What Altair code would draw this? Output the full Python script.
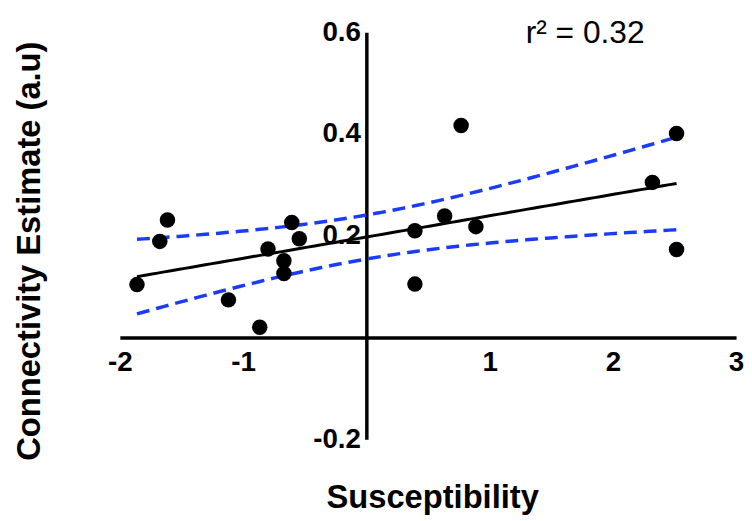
import altair as alt
import numpy as np
import pandas as pd

# Scatter data
susceptibility = [-1.614, -1.676, -1.861, -1.119, -0.865, -0.798, -0.605, -0.544, -0.669, -0.669,
                  0.769, 2.517, 2.321, 0.635, 0.394, 0.889, 2.517, 0.394]
connectivity = [0.231, 0.189, 0.104, 0.074, 0.020, 0.174, 0.226, 0.194, 0.151, 0.126,
                0.417, 0.401, 0.305, 0.239, 0.210, 0.218, 0.173, 0.105]
x_ticks = [-2, -1, 0, 1, 2, 3]
y_ticks = [-0.2, 0, 0.2, 0.4, 0.6]
r2_label = "r\u00b2 = 0.32"

pts = pd.DataFrame({"x": susceptibility, "y": connectivity})

# Linear regression with 95% confidence band of the mean, derived from the points
xs = np.array(susceptibility)
ys = np.array(connectivity)
n = len(xs)
xbar, ybar = xs.mean(), ys.mean()
sxx = ((xs - xbar) ** 2).sum()
slope = ((xs - xbar) * (ys - ybar)).sum() / sxx
intercept = ybar - slope * xbar
resid = ys - (intercept + slope * xs)
s = np.sqrt((resid ** 2).sum() / (n - 2))
t_crit = 2.1199  # t(0.975, df=16)
grid = np.linspace(xs.min(), xs.max(), 80)
fit = intercept + slope * grid
half = t_crit * s * np.sqrt(1.0 / n + (grid - xbar) ** 2 / sxx)

fit_df = pd.DataFrame({"x": grid, "y": fit})
band_df = pd.concat([
    pd.DataFrame({"x": grid, "y": fit + half, "band": "upper"}),
    pd.DataFrame({"x": grid, "y": fit - half, "band": "lower"}),
])

W, H = 622.5, 411
FONT = "Liberation Sans"

xscale = alt.Scale(domain=[-2, 3], nice=False, zero=False)
yscale = alt.Scale(domain=[-0.2, 0.6], nice=False, zero=False)

xaxis = alt.Axis(values=x_ticks, title=None, grid=False, ticks=False,
                 domainColor="black", domainWidth=3.5, offset=-H * 0.25,
                 labelFont=FONT, labelFontWeight="bold", labelFontSize=28,
                 labelColor="black", labelPadding=11, labelFlush=False,
                 labelOverlap=False,
                 labelExpr="datum.value == 0 ? '' : (datum.value < 0 ? '-' : '') + format(abs(datum.value), 'd')")
yaxis = alt.Axis(values=y_ticks, title=None, grid=False, ticks=False,
                 domainColor="black", domainWidth=3.5, offset=-W * 0.4,
                 labelFont=FONT, labelFontWeight="bold", labelFontSize=28,
                 labelColor="black", labelPadding=6, labelFlush=False,
                 labelOverlap=False,
                 labelExpr="datum.value == 0 ? '' : (datum.value < 0 ? '-' : '') + format(abs(datum.value), '.1f')")

points = alt.Chart(pts).mark_circle(size=245, color="black", opacity=1).encode(
    x=alt.X("x:Q", scale=xscale, axis=xaxis),
    y=alt.Y("y:Q", scale=yscale, axis=yaxis),
)

line = alt.Chart(fit_df).mark_line(color="black", strokeWidth=3).encode(
    x=alt.X("x:Q", scale=xscale), y=alt.Y("y:Q", scale=yscale)
)

bands = alt.Chart(band_df).mark_line(color="#1a3cf5", strokeWidth=3.5, strokeDash=[13, 7]).encode(
    x=alt.X("x:Q", scale=xscale), y=alt.Y("y:Q", scale=yscale), detail="band:N"
)

r2 = alt.Chart(pd.DataFrame({"t": [r2_label]})).mark_text(
    font=FONT, fontSize=32, color="black", align="left", baseline="middle"
).encode(text="t:N", x=alt.value(410), y=alt.value(1))

xtitle = alt.Chart(pd.DataFrame({"t": ["Susceptibility"]})).mark_text(
    font=FONT, fontSize=33, fontWeight="bold", color="black", align="center", baseline="middle"
).encode(text="t:N", x=alt.value(316), y=alt.value(470))

ytitle = alt.Chart(pd.DataFrame({"t": ["Connectivity Estimate (a.u)"]})).mark_text(
    font=FONT, fontSize=33, fontWeight="bold", color="black", align="center", baseline="middle", angle=270
).encode(text="t:N", x=alt.value(-91), y=alt.value(221))

chart = alt.layer(bands, line, points, r2, xtitle, ytitle).properties(
    width=W, height=H,
    padding={"left": 113, "top": 22, "right": 8, "bottom": 80},
    autosize=alt.AutoSizeParams(type="none"),
).configure_view(stroke=None)

chart.save("out.html", embed_options={"renderer": "svg", "actions": False})
